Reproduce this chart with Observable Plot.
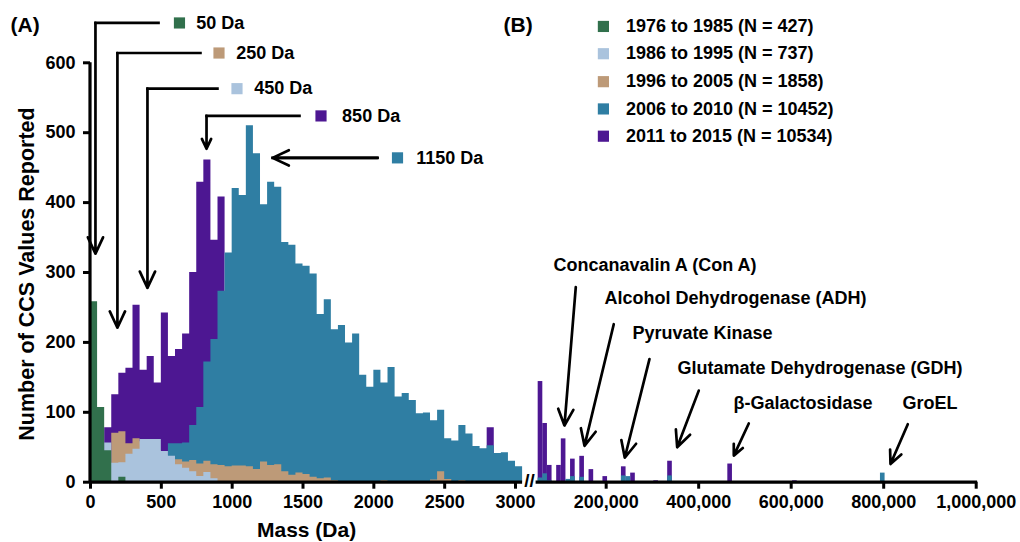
<!DOCTYPE html>
<html><head><meta charset="utf-8">
<script src="https://cdn.jsdelivr.net/npm/d3@7"></script>
<script src="https://cdn.jsdelivr.net/npm/@observablehq/plot@0.6"></script>
<style>
html,body{margin:0;padding:0;background:#fff;}
#chart{width:1020px;height:542px;}
</style></head><body><div id="chart"></div>
<script>
// ---------------- DATA ----------------
const seriesNames = ["1976 to 1985 (N = 427)", "1986 to 1995 (N = 737)", "1996 to 2005 (N = 1858)", "2006 to 2010 (N = 10452)", "2011 to 2015 (N = 10534)"];
const seriesColors = ["#31704c", "#aac3dd", "#bd9a78", "#2f7ea3", "#4d1792"];

// Panel A: 50 Da bins starting at 0 Da (bin i covers i*50 .. i*50+50)
const binWidthA = 50;
const green1976 = [258, 107, 45, 0, 7];
const lightBlue1986 = [0, 0, 56, 27, 28, 40, 47, 61, 61, 61, 44, 37, 25, 20, 15, 8, 14, 5];
const tan1996 = [0, 0, 0, 70, 72, 55, 62, 58, 50, 45, 38, 35, 32, 29, 31, 26, 30, 25, 24, 22,
  23, 23, 22, 18, 29, 24, 25, 15, 10, 13, 11, 7, 5, 6, 2, 0, 0, 0, 0, 0,
  0, 2, 0, 0, 0, 0, 0, 0, 3, 15, 4, 0, 2, 0];
const teal2006 = [0, 0, 0, 0, 0, 0, 0, 0, 0, 0, 0, 55, 55, 56, 81, 107, 172, 204, 273, 328,
  420, 410, 510, 470, 397, 429, 422, 343, 339, 312, 309, 298, 240, 261, 218, 224, 199, 212, 153, 136,
  160, 142, 164, 122, 127, 117, 98, 99, 88, 103, 62, 59, 81, 69, 51, 48, 52, 41, 42, 30, 22];
const purple2011 = [0, 0, 78, 125, 156, 163, 253, 160, 180, 142, 242, 180, 190, 212, 300, 429, 461, 346, 408, 0,
  0, 0, 0, 0, 0, 0, 0, 0, 0, 0, 0, 0, 0, 0, 0, 0, 0, 0, 0, 0,
  0, 0, 0, 0, 0, 0, 0, 0, 0, 0, 0, 0, 0, 0, 0, 0, 78];

// Panel B: 10,000 Da bins (left edges)
const binWidthB = 10000;
const massBinsB = [53000, 63000, 73000, 93000, 103000, 113000, 123000, 143000, 163000, 193000, 233000, 243000, 253000, 303000, 333000, 463000, 603000, 793000];
const purpleB = [144, 84, 24, 24, 62, 0, 33, 37, 18, 8, 22, 0, 13, 2, 30, 26, 2, 0];
const tealB = [6, 12, 2, 0, 0, 4, 8, 7, 0, 0, 9, 8, 0, 0, 9, 0, 0, 13];

const yTicks = [0, 100, 200, 300, 400, 500, 600];
const xTicks = [0, 500, 1000, 1500, 2000, 2500, 3000, 200000, 400000, 600000, 800000, 1000000];

const callouts = ["50 Da", "250 Da", "450 Da", "850 Da", "1150 Da"];
const proteins = ["Concanavalin A (Con A)", "Alcohol Dehydrogenase (ADH)", "Pyruvate Kinase", "Glutamate Dehydrogenase (GDH)", "\u03b2-Galactosidase", "GroEL"];

// ---------------- LAYOUT (data units) ----------------
const calloutLayout = [ // y level, horizontal line from->to (Da), arrow tip y, swatch x, text x
  {y: 657, from: 480, to: 35, tipY: 327, swatch: 628, text: 746, color: seriesColors[0]},
  {y: 614, from: 776, to: 190, tipY: 221, swatch: 907, text: 1028, color: seriesColors[2]},
  {y: 563, from: 896, to: 402, tipY: 278, swatch: 1034, text: 1155, color: seriesColors[1]},
  {y: 524, from: 1475, to: 819, tipY: 477, swatch: 1627, text: 1776, color: seriesColors[4]},
  {y: 464, from: 2026, to: 1285, tipY: null, swatch: 2167, text: 2299, color: seriesColors[3]}
];
const proteinLayout = [ // text left, text y, arrow start, arrow tip
  {tx: 86000, ty: 310, x1: 134300, y1: 279, x2: 109800, y2: 81},
  {tx: 196300, ty: 263, x1: 216400, y1: 226, x2: 153100, y2: 52},
  {tx: 256900, ty: 213, x1: 293600, y1: 176, x2: 240200, y2: 35},
  {tx: 354200, ty: 163, x1: 400200, y1: 131, x2: 353500, y2: 50},
  {tx: 475200, ty: 113, x1: 508300, y1: 84, x2: 475900, y2: 38},
  {tx: 840600, ty: 113, x1: 852100, y1: 83, x2: 814700, y2: 26}
];
const legendLayout = {swatchX: 194000, textX: 242600, y: [652, 613, 573, 534, 495]};

// ---------------- BUILD ----------------
function steps(values) {
  const pts = values.map((v, i) => ({x: i * binWidthA, y: v}));
  pts.push({x: values.length * binWidthA, y: values[values.length - 1]});
  return pts;
}
const layersA = [
  [purple2011, seriesColors[4]],
  [teal2006, seriesColors[3]],
  [tan1996, seriesColors[2]],
  [lightBlue1986, seriesColors[1]],
  [green1976, seriesColors[0]]
];
const tableB = massBinsB.map((m, i) => ({m0: m, m1: m + binWidthB, purple: purpleB[i], teal: tealB[i]}));
const calloutData = callouts.map((c, i) => ({label: c, ...calloutLayout[i]}));
const proteinData = proteins.map((p, i) => ({label: p, ...proteinLayout[i]}));
const legendData = seriesNames.map((s, i) => ({label: s, color: seriesColors[i], y: legendLayout.y[i]}));
const fmt = d => d <= 3050 ? String(d) : d3.format(",")(d);
const FONT = "'Liberation Sans', Arial, Helvetica, sans-serif";
const ARROW = {strokeWidth: 2.7, headLength: 10, headAngle: 50, stroke: "#000"};

const chart = Plot.plot({
  width: 1020, height: 542,
  marginLeft: 90, marginRight: 44.3, marginTop: 62.3, marginBottom: 60.3,
  style: {fontFamily: FONT, fontWeight: "bold", fontSize: "18px", background: "#fff", color: "#000", overflow: "visible"},
  x: {type: "linear", domain: [0, 3050, 48500, 1000000], range: [90, 522.1, 535.6, 975.7]},
  y: {domain: [0, 600], range: [481.7, 62.3]},
  marks: [
    ...layersA.map(([vals, col]) => Plot.areaY(steps(vals), {x: "x", y: "y", curve: "step-after", fill: col})),
    Plot.rectY(tableB, {x1: "m0", x2: "m1", y: "purple", fill: seriesColors[4]}),
    Plot.rectY(tableB, {x1: "m0", x2: "m1", y: "teal", fill: seriesColors[3]}),
    // axis lines
    Plot.ruleY([{a: 0, b: 3050}, {a: 48500, b: 1003000}], {y: 0, x1: "a", x2: "b", strokeWidth: 3.2, stroke: "#000"}),
    Plot.ruleX([0], {y1: 0, y2: 600, strokeWidth: 3.2, stroke: "#000", dx: -0.5}),
    Plot.axisX(xTicks, {tickSize: 7, strokeWidth: 3, tickPadding: 6, fontSize: 18, tickFormat: fmt, label: null}),
    Plot.axisY(yTicks, {tickSize: 7, strokeWidth: 3, tickPadding: 8, fontSize: 18, label: null}),
    Plot.text(["//"], {x: 3050, y: 0, dx: 7, dy: -1, fontSize: 19, fontWeight: "bold"}),
    // axis titles
    Plot.text(["Mass (Da)"], {x: 1525, frameAnchor: "bottom", dy: 55, fontSize: 21, lineAnchor: "bottom"}),
    Plot.text(["Number of CCS Values Reported"], {frameAnchor: "left", dx: -63, dy: 1.5, rotate: -90, fontSize: 21.5, textAnchor: "middle", lineAnchor: "middle"}),
    // panel labels
    Plot.text(["(A)"], {frameAnchor: "top-left", dx: -80, dy: -38, textAnchor: "start", lineAnchor: "middle", fontSize: 21}),
    Plot.text(["(B)"], {x: 2915, frameAnchor: "top", dy: -38, textAnchor: "start", lineAnchor: "middle", fontSize: 21}),
    // callouts panel A
    Plot.link(calloutData, {x1: "from", x2: "to", y1: "y", y2: "y", strokeWidth: 2.7, stroke: "#000", strokeLinecap: "square"}),
    Plot.arrow(calloutData.filter(d => d.tipY !== null), {x1: "to", x2: "to", y1: "y", y2: "tipY", ...ARROW}),
    Plot.arrow(calloutData.filter(d => d.tipY === null), {x1: "from", x2: "to", y1: "y", y2: "y", ...ARROW}),
    Plot.dot(calloutData, {x: "swatch", y: "y", symbol: "square", r: 6.3, fill: "color"}),
    Plot.text(calloutData, {x: "text", y: "y", text: "label", textAnchor: "start", fontSize: 18}),
    // protein annotations panel B
    Plot.text(proteinData, {x: "tx", y: "ty", text: "label", textAnchor: "start", fontSize: 18}),
    Plot.arrow(proteinData, {x1: "x1", y1: "y1", x2: "x2", y2: "y2", ...ARROW}),
    // legend
    Plot.dot(legendData, {x: legendLayout.swatchX, y: "y", symbol: "square", r: 6.3, fill: "color"}),
    Plot.text(legendData, {x: legendLayout.textX, y: "y", text: "label", textAnchor: "start", fontSize: 18})
  ]
});
document.getElementById("chart").appendChild(chart);
</script></body></html>
